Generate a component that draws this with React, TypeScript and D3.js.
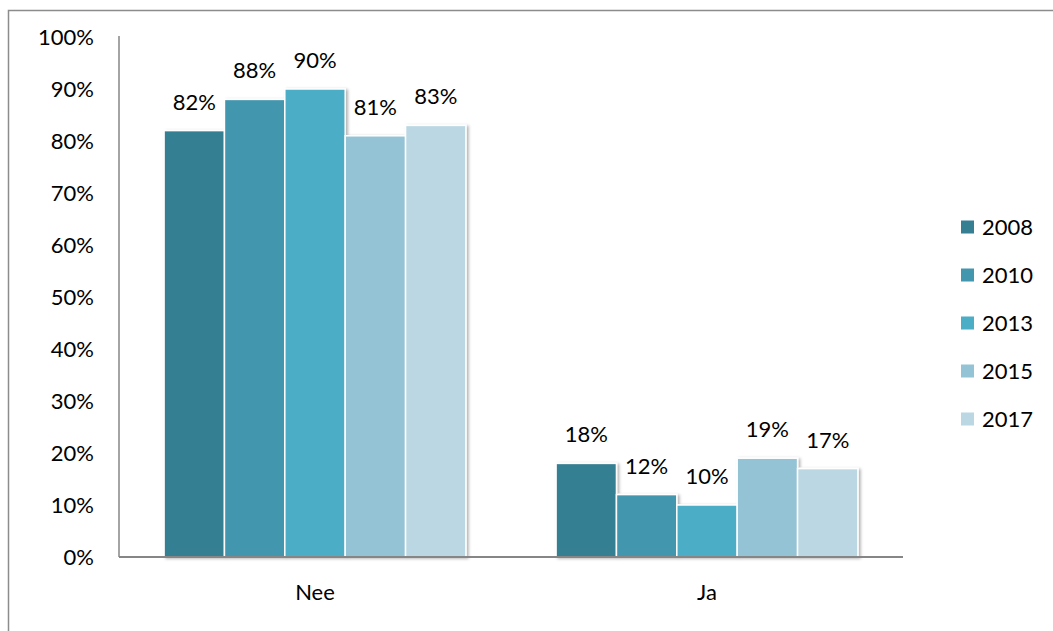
import React from 'react';
import * as d3 from 'd3';

const categories = ['Nee', 'Ja'];
const years = ['2008', '2010', '2013', '2015', '2017'];
const nee = [0.82, 0.88, 0.9, 0.81, 0.83];
const ja = [0.18, 0.12, 0.1, 0.19, 0.17];
const yTicks = [0, 0.1, 0.2, 0.3, 0.4, 0.5, 0.6, 0.7, 0.8, 0.9, 1];
const colors = ['#367f93', '#4297ae', '#4badc6', '#93c3d5', '#bad7e3'];

const WIDTH = 1053;
const HEIGHT = 631;
const plot = { left: 119, right: 903, top: 37, bottom: 557 };
const FONT = 'Lato, "Open Sans", sans-serif';

export default function App() {
  const values: Record<string, number[]> = { Nee: nee, Ja: ja };

  const x0 = d3
    .scaleBand()
    .domain(categories)
    .range([plot.left, plot.right])
    .paddingInner(0.23)
    .paddingOuter(0.115);

  const x1 = d3.scaleBand().domain(years).range([0, x0.bandwidth()]).padding(0);

  const y = d3.scaleLinear().domain([0, 1]).range([plot.bottom, plot.top]);

  const fmt = d3.format('.0%');

  return (
    <svg
      width={WIDTH}
      height={HEIGHT}
      style={{ position: 'absolute', left: 0, top: 0, display: 'block' }}
      fontFamily={FONT}
    >
      <defs>
        <filter id="shadow" x="-20%" y="-20%" width="140%" height="140%">
          <feDropShadow dx="2" dy="1" stdDeviation="1.6" floodColor="#000" floodOpacity="0.3" />
        </filter>
      </defs>
      <rect width={WIDTH} height={HEIGHT} fill="#fff" />
      {/* outer frame */}
      <rect x={8.5} y={10.5} width={WIDTH + 20} height={HEIGHT + 20} fill="none" stroke="#8c8c8c" strokeWidth={1.5} />

      {/* y axis labels */}
      <g>
        {yTicks.map((t, i) => (
          <text key={i} x={94} y={y(t) + 8} fontSize={22} textAnchor="end" fill="#000">
            {fmt(t)}
          </text>
        ))}
      </g>

      {/* bars */}
      {categories.map(c => (
        <g key={c} transform={`translate(${x0(c)},0)`}>
          <g filter="url(#shadow)">
            {values[c].map((v, i) => (
              <rect
                key={i}
                x={x1(years[i])}
                y={y(v)}
                width={x1.bandwidth()}
                height={y(0) - y(v)}
                fill={colors[i]}
                stroke="#fff"
                strokeWidth={1.5}
              />
            ))}
          </g>
          {values[c].map((v, i) => (
            <text
              key={i}
              x={(x1(years[i]) || 0) + x1.bandwidth() / 2}
              y={y(v) - 21}
              fontSize={22}
              textAnchor="middle"
              fill="#000"
            >
              {fmt(v)}
            </text>
          ))}
          <text
            x={x0.bandwidth() / 2}
            y={600}
            fontSize={22}
            textAnchor="middle"
            fill="#000"
          >
            {c}
          </text>
        </g>
      ))}

      {/* axes lines */}
      <line x1={plot.left} x2={plot.left} y1={36} y2={plot.bottom} stroke="#868686" strokeWidth={1.5} />
      <line x1={plot.left} x2={plot.right} y1={plot.bottom} y2={plot.bottom} stroke="#868686" strokeWidth={2} />

      {/* legend */}
      <g>
        {years.map((yr, i) => (
          <g key={yr} transform={`translate(961,${227 + i * 48})`}>
            <rect x={0} y={-6.5} width={13} height={13} fill={colors[i]} />
            <text x={21} y={8} fontSize={22} fill="#000">
              {yr}
            </text>
          </g>
        ))}
      </g>
    </svg>
  );
}
